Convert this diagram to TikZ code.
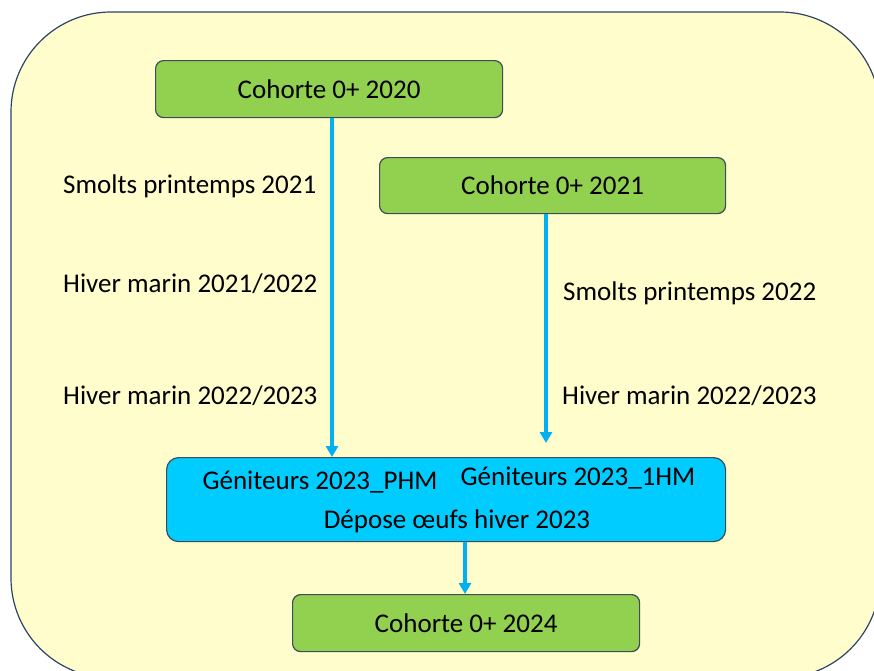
\documentclass[tikz,border=0pt]{standalone}
\usepackage{fontspec}
\setmainfont{Carlito}
\definecolor{bgyellow}{HTML}{FFFDCC}
\definecolor{outline}{HTML}{2E4466}
\definecolor{boxedge}{HTML}{3D4B5A}
\definecolor{green1}{HTML}{92D050}
\definecolor{cyan1}{HTML}{00CCFF}
\definecolor{arrowblue}{HTML}{00B0F0}
\tikzset{
  greenbox/.style={draw=boxedge, line width=1.2pt, fill=green1, rounded corners=8pt, anchor=north west, inner sep=0pt},
  bluebox/.style={draw=boxedge, line width=1.2pt, fill=cyan1, rounded corners=12pt, anchor=north west, inner sep=0pt},
  lbl/.style={font=\fontsize{27}{32}\selectfont, inner sep=0pt},
  flow/.style={draw=arrowblue, line width=3.2pt, -{Triangle[length=11pt,width=12pt]}},
}
\usetikzlibrary{arrows.meta}
\begin{document}
\begin{tikzpicture}[x=1pt,y=-1pt]
\useasboundingbox (0,0) rectangle (874,670);
\clip (0,0) rectangle (874,670);
\draw[fill=bgyellow, draw=outline, line width=1.2pt, rounded corners=100pt] (11,12) rectangle (880,678);
\node[greenbox, minimum width=347pt, minimum height=57pt] (c20) at (155,60) {};
\node[lbl] at (c20.center) {Cohorte 0+ 2020};
\node[greenbox, minimum width=346pt, minimum height=56pt] (c21) at (379,157) {};
\node[lbl] at (c21.center) {Cohorte 0+ 2021};
\node[bluebox, minimum width=559pt, minimum height=84pt] (gen) at (166,457) {};
\node[greenbox, minimum width=347pt, minimum height=57pt] (c24) at (292,594) {};
\node[lbl] at (c24.center) {Cohorte 0+ 2024};
\node[lbl] (g1) at (320,482) {Géniteurs 2023\_PHM};
\node[lbl] (g2) at (578,478) {Géniteurs 2023\_1HM};
\node[lbl] (dep) at (457,521) {Dépose œufs hiver 2023};
\node[lbl, anchor=west] (t1) at (63,186) {Smolts printemps 2021};
\node[lbl, anchor=west] (t2) at (63,284) {Hiver marin 2021/2022};
\node[lbl, anchor=west] (t3) at (63,396) {Hiver marin 2022/2023};
\node[lbl, anchor=west] (t4) at (563,293) {Smolts printemps 2022};
\node[lbl, anchor=west] (t5) at (562,396) {Hiver marin 2022/2023};
\coordinate (e2) at (546,443);
\draw[flow] (c20.south -| 332,0) -- (gen.north -| 332,0);
\draw[flow] (c21.south -| e2) -- (e2);
\draw[flow] (gen.south -| 465,0) -- (c24.north -| 465,0);
\end{tikzpicture}
\end{document}
